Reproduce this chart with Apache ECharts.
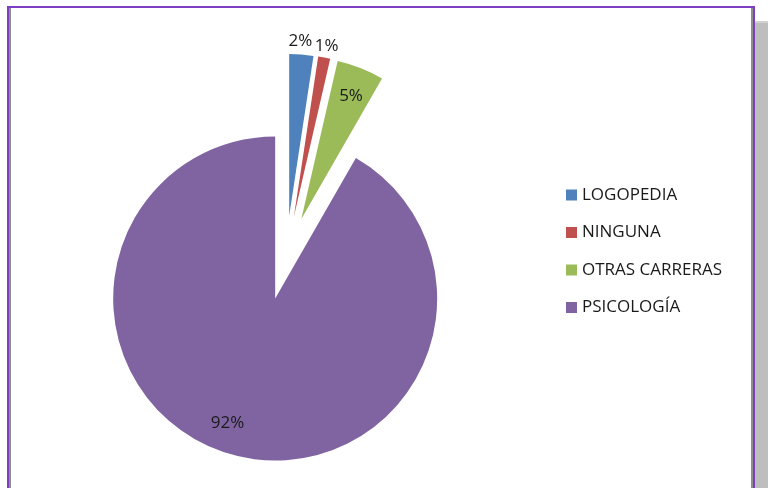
<!DOCTYPE html>
<html>
<head>
<meta charset="utf-8">
<script src="https://cdn.jsdelivr.net/npm/echarts@6/dist/echarts.min.js"></script>
<style>
html,body{margin:0;padding:0;background:#fff;width:768px;height:488px;overflow:hidden;}
#chart{position:absolute;left:0;top:0;width:768px;height:488px;}
#side{position:absolute;left:755px;top:21px;width:13px;height:467px;background:#BEBEBE;border-top:2px solid #D2D2D2;}
#frame{position:absolute;left:7px;top:6px;width:744px;height:500px;border:2px solid #7D3FC2;pointer-events:none;}
#inner{position:absolute;left:9px;top:8px;width:740px;height:500px;border-left:2px solid #8E8E8E;border-right:2px solid #8E8E8E;pointer-events:none;}
</style>
</head>
<body>
<div id="side"></div>
<div id="chart"></div>
<div id="inner"></div>
<div id="frame"></div>
<script>
var categories = ['LOGOPEDIA', 'NINGUNA', 'OTRAS CARRERAS', 'PSICOLOGÍA'];
var values = [2.4, 1.2, 4.7, 91.7];
var colors = ['#4F81BD', '#C0504D', '#9BBB59', '#8064A2'];
var labelShift = [[5, -91], [17, -88], [19, -45], [-26, 43]];

var chart = echarts.init(document.getElementById('chart'), null, {renderer: 'canvas'});
var data = categories.map(function (c, i) {
  return {name: c, value: values[i], selected: true, itemStyle: {color: colors[i]}};
});
chart.setOption({
  animation: false,
  legend: {
    orient: 'vertical',
    left: 566,
    top: 185,
    padding: 0,
    icon: 'rect',
    itemWidth: 11,
    itemHeight: 11,
    itemGap: 17.5,
    selectedMode: false,
    textStyle: {fontFamily: 'Open Sans', fontSize: 17, color: '#1a1a1a', lineHeight: 20},
    data: categories
  },
  series: [{
    type: 'pie',
    center: [286, 258],
    radius: 162,
    startAngle: 90,
    clockwise: true,
    selectedMode: 'multiple',
    selectedOffset: 42,
    avoidLabelOverlap: false,
    emphasis: {disabled: true},
    select: {itemStyle: {}},
    itemStyle: {borderWidth: 0},
    label: {
      show: true,
      position: 'inside',
      fontFamily: 'Open Sans',
      fontSize: 17,
      color: '#1a1a1a',
      formatter: function (p) { return Math.round(p.percent) + '%'; }
    },
    labelLine: {show: false},
    labelLayout: function (p) {
      var s = labelShift[p.dataIndex];
      return {dx: s[0], dy: s[1]};
    },
    data: data
  }]
});
</script>
</body>
</html>
